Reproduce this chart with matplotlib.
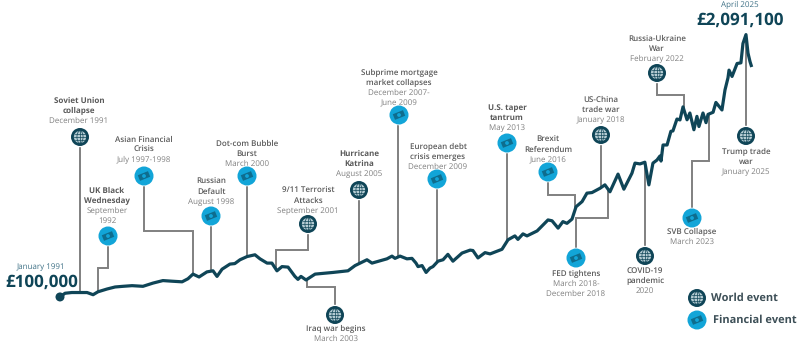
import numpy as np
from matplotlib import pyplot as plt
from matplotlib.patches import Circle, Ellipse, Rectangle
from matplotlib.transforms import Affine2D

plt.rcParams['font.family'] = ['Open Sans', 'DejaVu Sans']
plt.rcParams['text.hinting'] = 'no_hinting'
plt.rcParams['text.hinting_factor'] = 1

# portfolio value (GBP thousands)
years = [1991.00, 1991.25, 1991.59, 1991.99, 1992.34, 1992.64, 1992.88, 1993.33, 1993.73, 1994.12,
         1994.57, 1995.11, 1995.61, 1996.10, 1996.55, 1997.05, 1997.34, 1997.59, 1997.89, 1998.28,
         1998.58, 1998.78, 1999.03, 1999.42, 1999.66, 1999.92, 2000.27, 2000.66, 2000.91, 2001.26,
         2001.50, 2001.75, 2002.00, 2002.30, 2002.64, 2002.79, 2002.94, 2003.19, 2003.64, 2004.53,
         2005.27, 2005.62, 2006.21, 2006.46, 2007.20, 2007.45, 2007.60, 2007.85, 2008.19, 2008.44,
         2008.64, 2008.74, 2008.94, 2009.14, 2009.33, 2009.48, 2009.73, 2009.98, 2010.22, 2010.47,
         2010.92, 2011.32, 2011.46, 2011.71, 2012.06, 2012.31, 2012.90, 2013.20, 2013.54, 2013.69,
         2013.94, 2014.14, 2014.64, 2014.78, 2015.18, 2015.38, 2015.68, 2015.92, 2016.12, 2016.37,
         2016.57, 2016.87, 2017.11, 2017.36, 2017.76, 2018.00, 2018.25, 2018.65, 2018.94, 2019.34,
         2019.49, 2019.74, 2019.98, 2020.18, 2020.38, 2020.58, 2020.73, 2020.78, 2020.88, 2021.08,
         2021.27, 2021.37, 2021.57, 2021.72, 2021.87, 2022.07, 2022.21, 2022.41, 2022.56, 2022.66,
         2022.86, 2023.01, 2023.11, 2023.36, 2023.50, 2023.80, 2023.95, 2024.10, 2024.15, 2024.30,
         2024.55, 2024.74, 2024.84, 2024.99, 2025.09, 2025.19, 2025.25]
values = [100, 105, 106, 106, 106, 103, 107, 111, 114, 115,
          116, 115, 120, 124, 123, 122, 127, 135, 130, 139,
          141, 131, 144, 154, 155, 163, 170, 174, 165, 156,
          156, 141, 149, 148, 131, 126, 131, 125, 135, 138,
          141, 151, 163, 156, 165, 171, 166, 171, 165, 166,
          156, 149, 151, 138, 146, 149, 160, 163, 175, 160,
          178, 185, 184, 167, 179, 176, 187, 212, 223, 213,
          229, 223, 238, 247, 275, 272, 247, 269, 263, 278,
          327, 350, 391, 394, 417, 436, 398, 502, 412, 508,
          580, 574, 587, 436, 580, 604, 637, 596, 736, 736,
          881, 885, 1035, 1023, 1214, 1025, 1120, 899, 1072, 938,
          1120, 987, 1100, 1131, 1287, 1166, 1516, 1781, 1967, 1811,
          2146, 2165, 2790, 3137, 2462, 2200, 2091.1]

# events: heading, date lines, bold heading?, kind, date where the stem meets the line
ev_head = [['Soviet Union', 'collapse'], ['UK Black', 'Wednesday'], ['Asian Financial', 'Crisis'],
           ['Russian', 'Default'], ['Dot-com Bubble', 'Burst'], ['9/11 Terrorist', 'Attacks'],
           ['Hurricane', 'Katrina'], ['Iraq war begins'], ['Subprime mortgage', 'market collapses'],
           ['European debt', 'crisis emerges'], ['U.S. taper', 'tantrum'], ['Brexit', 'Referendum'],
           ['US-China', 'trade war'], ['FED tightens'], ['COVID-19', 'pandemic'], ['SVB Collapse'],
           ['Russia-Ukraine', 'War'], ['Trump trade', 'war']]
ev_date = [['December 1991'], ['September', '1992'], ['July 1997-1998'], ['August 1998'], ['March 2000'],
           ['September 2001'], ['August 2005'], ['March 2003'], ['December 2007-', 'June 2009'],
           ['December 2009'], ['May 2013'], ['June 2016'], ['January 2018'], ['March 2018-', 'December 2018'],
           ['2020'], ['March 2023'], ['February 2022'], ['January 2025']]
ev_bold = [1, 1, 0, 0, 0, 0, 1, 0, 0, 0, 1, 0, 0, 0, 0, 0, 0, 0]
ev_kind = ['w', 'f', 'f', 'f', 'f', 'w', 'w', 'w', 'f', 'f', 'f', 'f', 'w', 'f', 'w', 'f', 'w', 'w']
ev_when = [1991.97, 1992.88, 1997.59, 1998.48, 2000.27, 2001.70, 2005.82, 2003.24, 2007.77,
           2009.68, 2013.15, 2016.52, 2017.81, 2018.15, 2019.99, 2023.16, 2021.92, 2024.99]

# layout in figure pixels: icon centre, elbow height, first text line
icon_x = [80, 108, 144, 211, 247, 308, 359, 335, 399, 437, 507, 548, 601, 576, 645, 692, 657, 746]
icon_y = [137, 236, 176, 216, 176, 224, 190, 315, 115, 179, 143, 172, 135, 258, 256, 218, 73, 136]
elbow_y = [None, 268, 231, None, None, 250, None, 287, None, None, None, 195, None, 218, None, 161, 95, None]
text_x = [79, 107, 144, 211, 247, 308, 359, 336, 399, 438, 507, 548, 601, 576, 645, 692, 657, 746]
text_y = [101, 191, 140, 182, 144, 191, 154, 329, 73, 147, 108, 140, 100, 274, 271, 232, 39, 152]

DARK = '#0f4557'
BLUE = '#12a5d8'
GREY = '#808080'
HEAD = '#5a5a5a'

fig = plt.figure(figsize=(8, 3.53), dpi=100)
ax = fig.add_axes([0, 0, 1, 1])
ax.set_yscale('log')
ax.set_xlim(1988.027, 2027.667)
ax.set_ylim(47.9, 4942)
ax.axis('off')

ov = fig.add_axes([0, 0, 1, 1], zorder=3)
ov.set_xlim(0, 800)
ov.set_ylim(353, 0)
ov.axis('off')
ov.patch.set_alpha(0)


def to_px(yr, val):
    p = ax.transData.transform((yr, val))
    return p[0], 353 - p[1]


def world_icon(x, y, r=9):
    ov.add_patch(Circle((x, y), r + 1.2, fc='white', ec='none', zorder=5))
    ov.add_patch(Circle((x, y), r, fc=DARK, ec='none', zorder=6))
    ov.add_patch(Circle((x, y), r * 0.68, fc='#b5ccd3', ec='none', zorder=7))
    s = r * 0.68
    for dy in [-0.5, 0, 0.5]:
        hw = s * np.sqrt(1 - dy ** 2)
        ov.plot([x - hw, x + hw], [y + dy * s, y + dy * s], color=DARK, lw=0.5, zorder=8)
    ov.plot([x, x], [y - s, y + s], color=DARK, lw=0.5, zorder=8)
    ov.add_patch(Ellipse((x, y), s, 2 * s, fc='none', ec=DARK, lw=0.5, zorder=8))


def money_icon(x, y, r=9.5):
    ov.add_patch(Circle((x, y), r + 0.8, fc='white', ec='none', zorder=5))
    ov.add_patch(Circle((x, y), r, fc=BLUE, ec='none', zorder=6))
    tr = Affine2D().rotate_deg_around(x, y, -22) + ov.transData
    ov.add_patch(Rectangle((x - 5.5, y - 3), 11, 6, fc='#0e6d8e', ec='none', zorder=7, transform=tr))
    ov.add_patch(Circle((x, y), 1.9, fc=BLUE, ec='none', zorder=8))


# stems sit under the curve
for i in range(len(ev_head)):
    ax_px, ay_px = to_px(ev_when[i], np.exp(np.interp(ev_when[i], years, np.log(values))))
    if elbow_y[i] is None:
        xs, ys = [ax_px, ax_px], [icon_y[i], ay_px]
    else:
        xs, ys = [icon_x[i], icon_x[i], ax_px, ax_px], [icon_y[i], elbow_y[i], elbow_y[i], ay_px]
    ov.plot(xs, ys, color=GREY, lw=1.4, solid_joinstyle='miter', zorder=1)

    if ev_kind[i] == 'w':
        world_icon(icon_x[i], icon_y[i])
    else:
        money_icon(icon_x[i], icon_y[i])

    yy = text_y[i]
    for line in ev_head[i]:
        ov.text(text_x[i], yy, line, ha='center', va='center', fontsize=5.9, color=HEAD,
                fontweight='bold' if ev_bold[i] else 'semibold')
        yy += 10
    for line in ev_date[i]:
        ov.text(text_x[i], yy, line, ha='center', va='center', fontsize=5.9, color=GREY)
        yy += 10

ov.plot(*zip(*[to_px(a, b) for a, b in zip(years, values)]), color=DARK, lw=2.3,
        solid_joinstyle='round', zorder=2)
sx, sy = to_px(years[0], values[0])
ov.add_patch(Circle((sx, sy), 4.5, fc=DARK, ec='none', zorder=2))

ov.text(41, 267, 'January 1991', ha='center', va='center', fontsize=5.9, color='#3f7186')
ov.text(42, 282, '£100,000', ha='center', va='center', fontsize=11.9, fontweight='bold', color=DARK)
ov.text(740, 5, 'April 2025', ha='center', va='center', fontsize=5.9, color='#3f7186')
ov.text(740, 20, '£2,091,100', ha='center', va='center', fontsize=11.9, fontweight='bold', color=DARK)

world_icon(697, 298)
money_icon(697, 320)
ov.text(711, 298, 'World event', ha='left', va='center', fontsize=8, fontweight='bold', color='#3d4f57')
ov.text(713, 320, 'Financial event', ha='left', va='center', fontsize=8, fontweight='bold', color='#3d4f57')

plt.savefig('out.png', dpi=100)
